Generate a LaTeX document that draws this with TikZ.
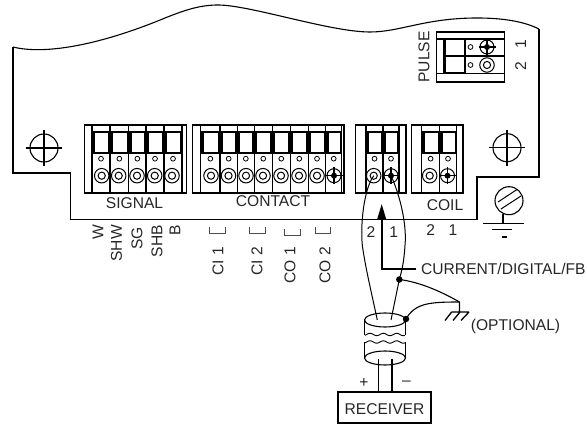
\documentclass[tikz,border=0pt]{standalone}
\usepackage{fontspec}
\setmainfont{Liberation Sans}
\tikzset{
    lab/.style={inner sep=0, font=\fontsize{15.6}{16}\selectfont, text=black!85},
    vlab/.style={lab, rotate=90, anchor=east},
    outline/.style={line width=1.8pt},
    block/.style={line width=1.4pt},
    thin line/.style={line width=.8pt},
    ringscrew/.style={circle, draw, line width=1pt, minimum size=14.5, inner sep=0, fill=white,
        path picture={\draw[line width=1pt] (path picture bounding box.center) circle (3.6);}},
    hole/.style={circle, draw, line width=1.1pt, minimum size=28, inner sep=0},
    dot/.style={circle, fill=black, minimum size=6.5, inner sep=0},
    bracket/.style={line width=.7pt, draw=black!70}
}
% one terminal of a block: left edge, right edge
\newcommand{\termcol}[2]{
    \draw[block] (#1,125) -- (#1,193) (#2,125) -- (#2,193);
    \fill (#1,131) rectangle (#2,154);
    \fill[white] ({#1+3},133.5) rectangle ({#2-2},152.5);
    \draw[thin line] ({(#1+#2)/2},158.7) circle (2.4);
}
\newcommand{\crosshead}[1]{
    \draw[line width=1pt] (#1) circle (7);
    \draw[line width=1.1pt] ($(#1)+(-8.5,0)$) -- ($(#1)+(8.5,0)$) ($(#1)+(0,-8.5)$) -- ($(#1)+(0,8.5)$);
    \fill (#1) circle (3);
}
\usetikzlibrary{calc,arrows.meta}
\begin{document}
\begin{tikzpicture}[x=1pt, y=-1pt]
    \useasboundingbox (0,0) rectangle (587,425);

    % panel
    \draw[outline, line join=miter] (13,47) -- (13,172.7) -- (70.5,172.7) -- (70.5,219.5) -- (477,219.5) -- (477,177) -- (539,177) -- (539,29);
    \draw[line width=1.1pt] (13,47) .. controls (45,55) and (100,45) .. (165,18) .. controls (185,10) and (200,5) .. (218,5) .. controls (250,5) and (330,32) .. (370,32) .. controls (400,32) and (425,18) .. (477,18) .. controls (505,18) and (525,22) .. (539,29);

    \node[hole] (holeL) at (44,148) {};
    \draw[line width=1.3pt] (26,148) -- (62,148) (44,130) -- (44,166);
    \node[hole] (holeR) at (507,147.7) {};
    \draw[line width=1.3pt] (489,147.7) -- (525,147.7) (507,130) -- (507,166);

    % terminal blocks
    \draw[block] (84.7,125) rectangle (186.7,193);
    \foreach \a/\b in {92/110, 110/128.7, 128.7/146, 146/164, 164/182}
        \termcol{\a}{\b};
    \foreach \x in {101.7, 118.7, 137, 154.7, 172}
        \node[ringscrew] at (\x,175.7) {};

    \draw[block] (192.7,125) rectangle (344,193);
    \foreach \a/\b in {200.7/220, 220/237.3, 237.3/254.3, 254.3/272.3, 272.3/290.3, 290.3/308.3, 308.3/325.7, 325.7/341.7}
        \termcol{\a}{\b};
    \foreach \x in {211, 228.5, 246, 263, 281, 299, 317}
        \node[ringscrew] at (\x,175.7) {};
    \coordinate (c8) at (334,175.7);
    \crosshead{c8}

    \draw[block] (355.7,125) rectangle (406,193);
    \foreach \a/\b in {366/383, 383/399}
        \termcol{\a}{\b};
    \node[ringscrew] (t2) at (373.7,175.7) {};
    \coordinate (t1) at (391,175.7);
    \crosshead{t1}

    \draw[block] (411.7,125) rectangle (463,193);
    \foreach \a/\b in {421.7/439.5, 439.5/456.5}
        \termcol{\a}{\b};
    \node[ringscrew] at (429.7,175.7) {};
    \coordinate (k1) at (447.5,175.7);
    \crosshead{k1}

    % pulse block
    \draw[block] (436.7,32) rectangle (504.3,82);
    \draw[block] (436.7,39) -- (504.3,39) (443.5,56) -- (504.3,56) (436.7,73.3) -- (504.3,73.3) (443.5,39) -- (443.5,73.3);
    \draw[line width=2pt] (445,39.5) rectangle (465,72.8);
    \draw[line width=2.6pt] (445,56) -- (465,56);
    \draw[thin line] (470.5,47) circle (2.4) (470.5,65) circle (2.4);
    \coordinate (p1) at (487,47);
    \crosshead{p1}
    \node[ringscrew] (p2) at (487,65) {};

    % ground screw
    \node[hole] (gnd) at (509,200.7) {};
    \draw[line width=1pt] (498,202) -- (517,189.5) (501,209) -- (521,196);
    \draw[line width=1.3pt] (503,214.5) -- (503,223.7) (483,223.7) -- (523.7,223.7) (492,229.3) -- (512,229.3) (502,237) -- (507,237);

    % labels
    \node[lab] (signal) at (134.5,203) {SIGNAL};
    \node[lab] (contact) at (273,200.7) {CONTACT};
    \node[lab] (coil) at (445,205) {COIL};
    \node[vlab] (w) at (98,225) {W};
    \node[vlab] (shw) at (116.5,225) {SHW};
    \node[vlab] (sg) at (137,227) {SG};
    \node[vlab] (shb) at (157,225) {SHB};
    \node[vlab] (b) at (175,225) {B};
    \node[vlab] (ci1) at (218,247) {CI 1};
    \node[vlab] (ci2) at (257,247) {CI 2};
    \node[vlab] (co1) at (290,247) {CO 1};
    \node[vlab] (co2) at (325,247) {CO 2};
    \draw[bracket] (209,227) -- (209,233) -- (225,233) -- (225,227);
    \draw[bracket] (249,227) -- (249,233) -- (265,233) -- (265,227);
    \draw[bracket] (284,229) -- (284,235) -- (300,235) -- (300,229);
    \draw[bracket] (315,227) -- (315,233) -- (330,233) -- (330,227);
    \node[vlab, anchor=center] (pulse) at (424,57) {PULSE};
    \node[vlab, anchor=center] (p1lab) at (520.7,44) {1};
    \node[vlab, anchor=center] (p2lab) at (520.7,66) {2};
    \node[lab] (n2) at (371,232) {2};
    \node[lab] (n1) at (393.7,232) {1};
    \node[lab] (k2) at (430.7,230) {2};
    \node[lab] (k1lab) at (453,230) {1};

    % pointer
    \node[lab, anchor=west] (current) at (421,268.7) {CURRENT/DIGITAL/FB};
    \coordinate (tip) at (381.7,204);
    \draw[line width=1.8pt, -{Triangle[length=16pt,width=9pt]}] (current.west) ++(-5,0) -- (381.7,268.7) -- (tip);

    % cable
    \coordinate (cabA) at (377.3,320);
    \coordinate (cabB) at (391,320);
    \node[dot] (j1) at (399.3,279.5) {};
    \node[dot] (j2) at (406,319) {};
    \coordinate (g) at (459.5,302);
    \draw[line width=1pt] (t2.center) .. controls (362,192) and (360,235) .. (363,250) .. controls (366,270) and (372,295) .. (cabA);
    \draw[line width=1pt] (t1) .. controls (400,195) and (407,225) .. (405,245) .. controls (404,262) and (402,270) .. (j1.center) -- (cabB);
    \draw[line width=1.1pt] (j1.center) .. controls (420,282) and (442,292) .. (g);
    \draw[line width=1.1pt] (j2.center) .. controls (415,303) and (430,302) .. (g);
    \draw[line width=1.3pt] (g) -- (459.5,312) (451.7,312) -- (469,312) (451.7,312) -- (445,320.5) (460,312) -- (453,320.5) (469,312) -- (461,320.5);
    \node[lab, anchor=west] (optional) at (470.7,326) {(OPTIONAL)};

    \draw[line width=1.1pt] (385,320) ellipse [x radius=20.5, y radius=7];
    \draw[line width=1.5pt] (364.5,320) -- (364.5,335) (405.5,320) -- (405.5,335) (364.5,342) -- (364.5,358) (405.5,342) -- (405.5,358);
    \draw[line width=.9pt] plot[domain=365:405, samples=50, smooth] (\x,{334.5+1.2*sin(\x*27)});
    \draw[line width=.9pt] plot[domain=365:405, samples=50, smooth] (\x,{342+1.2*sin(\x*27)});
    \draw[line width=1.1pt] (385,358) ellipse [x radius=20.5, y radius=7];

    \node[draw, line width=1.6pt, lab, minimum width=93, minimum height=30.5, text height=14] (receiver) at (384.5,407.5) {RECEIVER};
    \coordinate (cabC) at (378.3,359);
    \coordinate (cabD) at (391.7,359);
    \draw[line width=1.6pt] (cabC) -- (cabC |- receiver.north) (cabD) -- (cabD |- receiver.north);
    \node[lab] (plus) at (364,383) {+};
    \node[lab] (minus) at (406.5,383) {--};
\end{tikzpicture}
\end{document}
